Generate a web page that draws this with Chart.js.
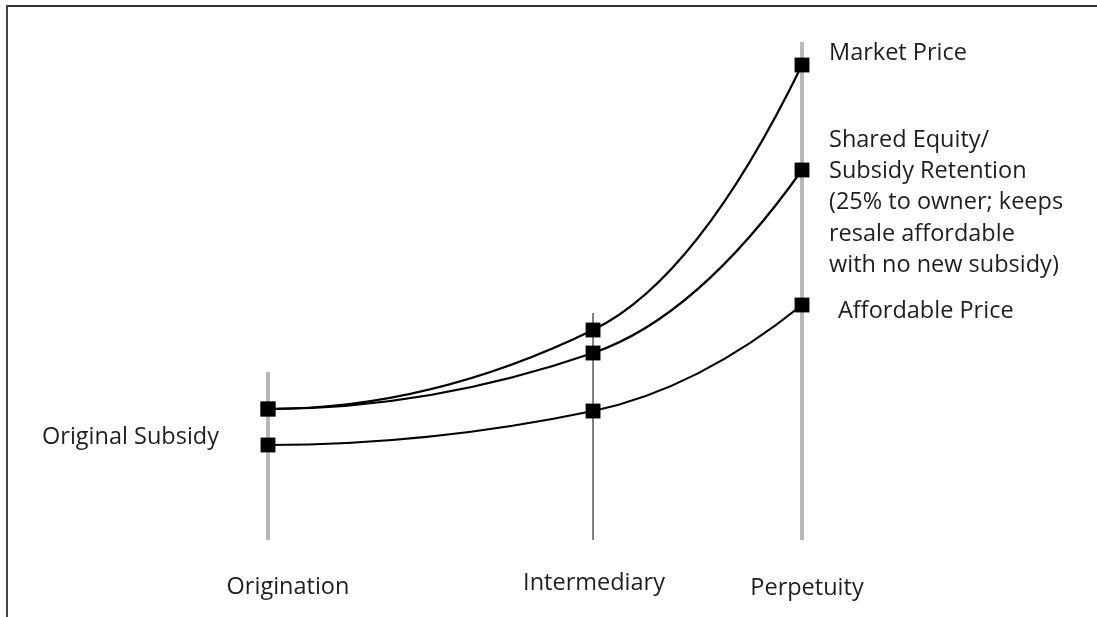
<!DOCTYPE html>
<html>
<head>
<meta charset="utf-8">
<script src="https://cdn.jsdelivr.net/npm/chart.js@4.4.0/dist/chart.umd.min.js"></script>
<style>
  html, body { margin: 0; padding: 0; background: #fff; }
  #wrap { position: relative; width: 1097px; height: 617px; overflow: hidden; }
  #frame { position: absolute; left: 6px; top: 5px; right: -10px; bottom: -10px;
           border-top: 2px solid #333; border-left: 2px solid #444; }
  canvas { position: absolute; left: 0; top: 0; }
</style>
</head>
<body>
<div id="wrap"><div id="frame"></div><canvas id="chart" width="1097" height="617"></canvas></div>
<script>
// stages along the horizontal axis and where they sit in time
const stages = ['Origination', 'Intermediary', 'Perpetuity'];
const stageX = [0, 14, 23];

// price levels at each stage
const marketPrice = [26.2, 42, 95];
const sharedEquity = [26.2, 37.4, 74];
const affordablePrice = [19, 25.8, 47];

// height of the vertical guide at each stage
const guideTops = [33.6, 45.4, 99.6];

const seriesLabels = [
  ['Market Price'],
  ['Shared Equity/', 'Subsidy Retention', '(25% to owner; keeps', 'resale affordable', 'with no new subsidy)'],
  ['Affordable Price']
];
const startLabel = 'Original Subsidy';

const FONT = '23.5px "Open Sans", "Noto Sans", sans-serif';
const TEXT = '#1e1e1e';

function pts(values) {
  return stageX.map((x, i) => ({ x, y: values[i] }));
}

const guideColors = ['#b8b8b8', '#555', '#b8b8b8'];
const guideWidths = [4, 1.5, 4];

const guides = stageX.map((x, i) => ({
  data: [{ x, y: 0 }, { x, y: guideTops[i] }],
  borderColor: guideColors[i],
  borderWidth: guideWidths[i],
  pointRadius: 0,
  clip: false,
  order: 5
}));

// the line itself is stroked by the plugin below so it can bend like a growth curve
function curve(values) {
  return {
    data: pts(values),
    showLine: false,
    pointStyle: 'rect',
    pointRadius: 10.5,
    pointBackgroundColor: '#000',
    pointBorderWidth: 0,
    clip: false,
    order: 1
  };
}

const curvePlugin = {
  id: 'curves',
  beforeDatasetsDraw(chart) {
    const ctx = chart.ctx;
    ctx.save();
    ctx.strokeStyle = '#000';
    ctx.lineWidth = 2.2;
    [0, 1, 2].forEach(idx => {
      const p = chart.getDatasetMeta(idx).data.map(el => ({ x: el.x, y: el.y }));
      // flat start, then each segment continues smoothly from the previous one
      const m = [0];
      for (let i = 0; i < p.length - 1; i++) {
        const d = (p[i + 1].y - p[i].y) / (p[i + 1].x - p[i].x);
        m.push(2 * d - m[i]);
      }
      ctx.beginPath();
      ctx.moveTo(p[0].x, p[0].y);
      for (let i = 0; i < p.length - 1; i++) {
        const h = (p[i + 1].x - p[i].x) / 3;
        ctx.bezierCurveTo(p[i].x + h, p[i].y + m[i] * h,
                          p[i + 1].x - h, p[i + 1].y - m[i + 1] * h,
                          p[i + 1].x, p[i + 1].y);
      }
      ctx.stroke();
    });
    ctx.restore();
  }
};

const labelPlugin = {
  id: 'labels',
  afterDraw(chart) {
    const { ctx, scales: { x, y } } = chart;
    ctx.save();
    ctx.font = FONT;
    ctx.fillStyle = TEXT;
    ctx.textBaseline = 'middle';
    ctx.textAlign = 'left';

    const endX = x.getPixelForValue(stageX[2]);
    // market price
    ctx.fillText(seriesLabels[0][0], endX + 27, y.getPixelForValue(marketPrice[2]) - 12);
    // shared equity block
    const top = y.getPixelForValue(sharedEquity[2]) - 30;
    seriesLabels[1].forEach((line, i) => ctx.fillText(line, endX + 27, top + i * 31.3));
    // affordable price
    ctx.fillText(seriesLabels[2][0], endX + 36, y.getPixelForValue(affordablePrice[2]) + 6);
    // original subsidy
    ctx.fillText(startLabel, 42, y.getPixelForValue(affordablePrice[0]) - 8);

    // stage names under the guides
    ctx.textAlign = 'center';
    const offsets = [20, 1, 5];
    const yLab = [587, 583, 588];
    stages.forEach((s, i) => {
      ctx.fillText(s, x.getPixelForValue(stageX[i]) + offsets[i], yLab[i]);
    });
    ctx.restore();
  }
};

new Chart(document.getElementById('chart'), {
  type: 'line',
  data: {
    datasets: [
      curve(marketPrice),
      curve(sharedEquity),
      curve(affordablePrice),
      ...guides
    ]
  },
  options: {
    responsive: false,
    animation: false,
    layout: { padding: { left: 268, right: 295, top: 40, bottom: 77 } },
    scales: {
      x: { type: 'linear', min: 0, max: 23, display: false },
      y: { min: 0, max: 100, display: false }
    },
    plugins: {
      legend: { display: false },
      tooltip: { enabled: false }
    }
  },
  plugins: [curvePlugin, labelPlugin]
});
</script>
</body>
</html>
